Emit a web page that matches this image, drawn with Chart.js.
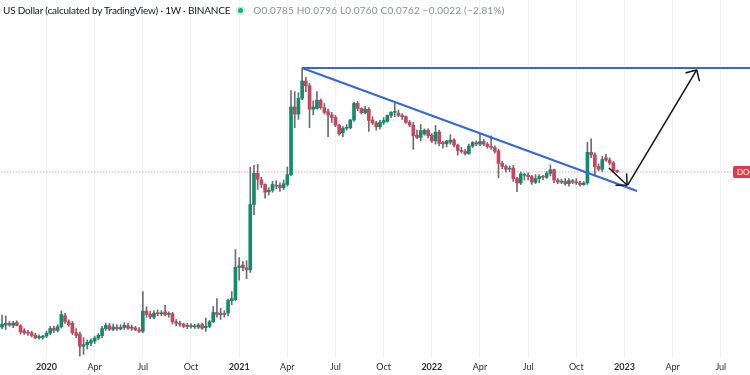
<!DOCTYPE html>
<html>
<head>
<meta charset="utf-8">
<script src="https://cdn.jsdelivr.net/npm/chart.js@4.4.1/dist/chart.umd.min.js"></script>
<style>
  html, body { margin: 0; padding: 0; background: #fff; }
  #wrap { position: relative; width: 750px; height: 375px; overflow: hidden; font-family: Lato, 'Open Sans', sans-serif; }
  #legend { position: absolute; left: 3px; top: 4px; font-size: 10px; color: #131722; white-space: nowrap; }
  #legend .name { letter-spacing: -0.2px; }
  #legend .dot { display: inline-block; width: 5px; height: 5px; border-radius: 50%; background: #22ab7a; box-shadow: 0 0 0 2px #c9eedd; margin: 0 10px 1px 8px; }
  #legend .ohlc { color: #8c8f99; letter-spacing: 0.2px; }
  #tag { position: absolute; left: 733px; top: 166px; height: 12px; padding: 0 4px; background: #e2374e; color: #fff; font-size: 8px; line-height: 12px; border-radius: 2px; }
</style>
</head>
<body>
<div id="wrap">
  <canvas id="chart"></canvas>
  <div id="legend"><span class="name">US Dollar (calculated by TradingView) · 1W · BINANCE</span><span class="dot"></span><span class="ohlc">O0.0785 H0.0796 L0.0760 C0.0762 −0.0022 (−2.81%)</span></div>
  <div id="tag">DOGEUSDT</div>
</div>
<script>
// weekly candles, week index counted from Mon 30 Dec 2019
const firstWeek = -12;
const open = [
  0.00268, 0.00258, 0.00270, 0.00280, 0.00268, 0.00285, 0.00266, 0.00238, 0.00230, 0.00228, 0.00216, 0.00204,
  0.00206, 0.00212, 0.00226, 0.00252, 0.00240, 0.00260, 0.00330, 0.00290, 0.00280, 0.00228, 0.00222, 0.00170,
  0.00176, 0.00182, 0.00190, 0.00203, 0.00214, 0.00250, 0.00266, 0.00246, 0.00258, 0.00248, 0.00256, 0.00266,
  0.00252, 0.00254, 0.00243, 0.00236, 0.00366, 0.00342, 0.00320, 0.00350, 0.00345, 0.00360, 0.00340, 0.00346,
  0.00290, 0.00280, 0.00275, 0.00262, 0.00267, 0.00260, 0.00258, 0.00272, 0.00255, 0.00262, 0.00290, 0.00355,
  0.00340, 0.00348, 0.00350, 0.00460, 0.00470, 0.0095, 0.0100, 0.0094, 0.0090, 0.0375, 0.074, 0.064,
  0.058, 0.0495, 0.051, 0.057, 0.057, 0.054, 0.058, 0.072, 0.315, 0.270, 0.380, 0.555,
  0.500, 0.300, 0.305, 0.365, 0.310, 0.285, 0.265, 0.250, 0.212, 0.180, 0.198, 0.200,
  0.237, 0.340, 0.305, 0.278, 0.300, 0.237, 0.222, 0.205, 0.225, 0.230, 0.262, 0.280,
  0.275, 0.262, 0.255, 0.225, 0.212, 0.170, 0.162, 0.175, 0.190, 0.170, 0.150, 0.182,
  0.145, 0.141, 0.146, 0.153, 0.137, 0.122, 0.119, 0.114, 0.134, 0.145, 0.140, 0.148,
  0.140, 0.133, 0.130, 0.121, 0.092, 0.086, 0.081, 0.083, 0.066, 0.060, 0.071, 0.071,
  0.069, 0.061, 0.066, 0.069, 0.068, 0.074, 0.080, 0.064, 0.061, 0.062, 0.059, 0.063,
  0.061, 0.060, 0.058, 0.060, 0.117, 0.111, 0.086, 0.081, 0.104, 0.099, 0.093, 0.0785
];
const high = [
  0.00280, 0.00335, 0.00330, 0.00292, 0.00292, 0.00296, 0.00272, 0.00250, 0.00240, 0.00236, 0.00226, 0.00218,
  0.00216, 0.00236, 0.00262, 0.00264, 0.00272, 0.00367, 0.00348, 0.00302, 0.00292, 0.00250, 0.00232, 0.00205,
  0.00195, 0.00200, 0.00212, 0.00224, 0.00262, 0.00282, 0.00280, 0.00276, 0.00272, 0.00272, 0.00284, 0.00280,
  0.00270, 0.00262, 0.00255, 0.00560, 0.00402, 0.00365, 0.00370, 0.00376, 0.00370, 0.00415, 0.00360, 0.00356,
  0.00305, 0.00295, 0.00282, 0.00280, 0.00278, 0.00275, 0.00280, 0.00282, 0.00315, 0.00300, 0.00405, 0.00480,
  0.00390, 0.00370, 0.00475, 0.00560, 0.0140, 0.0118, 0.0108, 0.0110, 0.085, 0.088, 0.090, 0.068,
  0.059, 0.054, 0.062, 0.063, 0.060, 0.064, 0.085, 0.450, 0.440, 0.430, 0.7376, 0.600,
  0.530, 0.360, 0.440, 0.375, 0.340, 0.300, 0.280, 0.262, 0.215, 0.205, 0.215, 0.240,
  0.350, 0.355, 0.310, 0.320, 0.310, 0.255, 0.230, 0.235, 0.250, 0.265, 0.285, 0.340,
  0.295, 0.272, 0.260, 0.235, 0.225, 0.190, 0.215, 0.195, 0.195, 0.176, 0.210, 0.190,
  0.150, 0.152, 0.172, 0.158, 0.140, 0.130, 0.124, 0.140, 0.148, 0.150, 0.172, 0.155,
  0.145, 0.168, 0.135, 0.125, 0.096, 0.089, 0.087, 0.088, 0.068, 0.076, 0.074, 0.075,
  0.071, 0.072, 0.072, 0.071, 0.077, 0.089, 0.081, 0.066, 0.065, 0.066, 0.066, 0.065,
  0.066, 0.062, 0.062, 0.146, 0.157, 0.116, 0.091, 0.107, 0.112, 0.104, 0.096, 0.0796
];
const low = [
  0.00258, 0.00248, 0.00245, 0.00262, 0.00255, 0.00265, 0.00222, 0.00220, 0.00215, 0.00208, 0.00200, 0.00198,
  0.00198, 0.00205, 0.00218, 0.00230, 0.00232, 0.00252, 0.00280, 0.00262, 0.00220, 0.00205, 0.00137, 0.00142,
  0.00160, 0.00172, 0.00180, 0.00195, 0.00205, 0.00240, 0.00238, 0.00238, 0.00240, 0.00242, 0.00245, 0.00245,
  0.00240, 0.00238, 0.00230, 0.00228, 0.00320, 0.00310, 0.00310, 0.00330, 0.00330, 0.00330, 0.00320, 0.00275,
  0.00265, 0.00262, 0.00255, 0.00250, 0.00252, 0.00250, 0.00250, 0.00245, 0.00235, 0.00255, 0.00285, 0.00320,
  0.00305, 0.00320, 0.00330, 0.00420, 0.00460, 0.0072, 0.0088, 0.0074, 0.0085, 0.030, 0.052, 0.054,
  0.043, 0.046, 0.049, 0.053, 0.050, 0.052, 0.056, 0.070, 0.200, 0.240, 0.370, 0.440,
  0.200, 0.265, 0.300, 0.300, 0.270, 0.165, 0.225, 0.205, 0.170, 0.165, 0.190, 0.195,
  0.230, 0.290, 0.270, 0.270, 0.185, 0.215, 0.190, 0.195, 0.215, 0.225, 0.250, 0.255,
  0.255, 0.240, 0.220, 0.205, 0.125, 0.158, 0.150, 0.170, 0.160, 0.145, 0.140, 0.135,
  0.128, 0.132, 0.140, 0.132, 0.110, 0.115, 0.110, 0.112, 0.130, 0.135, 0.135, 0.135,
  0.128, 0.125, 0.115, 0.067, 0.082, 0.076, 0.077, 0.062, 0.0495, 0.058, 0.064, 0.064,
  0.058, 0.059, 0.060, 0.064, 0.066, 0.070, 0.060, 0.059, 0.059, 0.057, 0.056, 0.059,
  0.058, 0.056, 0.057, 0.058, 0.104, 0.070, 0.078, 0.077, 0.096, 0.089, 0.076, 0.0760
];
const close = [
  0.00270, 0.00275, 0.00280, 0.00270, 0.00282, 0.00268, 0.00232, 0.00228, 0.00226, 0.00215, 0.00205, 0.00210,
  0.00212, 0.00226, 0.00250, 0.00240, 0.00260, 0.00340, 0.00290, 0.00272, 0.00228, 0.00215, 0.00170, 0.00176,
  0.00185, 0.00192, 0.00203, 0.00216, 0.00250, 0.00268, 0.00246, 0.00258, 0.00248, 0.00256, 0.00268, 0.00252,
  0.00254, 0.00243, 0.00236, 0.00366, 0.00340, 0.00322, 0.00350, 0.00345, 0.00352, 0.00340, 0.00346, 0.00290,
  0.00280, 0.00275, 0.00262, 0.00267, 0.00260, 0.00264, 0.00270, 0.00252, 0.00262, 0.00290, 0.00355, 0.00340,
  0.00345, 0.00338, 0.00460, 0.00480, 0.0095, 0.0098, 0.0094, 0.0090, 0.0375, 0.074, 0.065, 0.058,
  0.049, 0.051, 0.058, 0.056, 0.054, 0.059, 0.072, 0.315, 0.270, 0.380, 0.555, 0.500,
  0.300, 0.315, 0.365, 0.310, 0.280, 0.265, 0.250, 0.212, 0.175, 0.198, 0.200, 0.237,
  0.340, 0.305, 0.278, 0.300, 0.235, 0.222, 0.205, 0.225, 0.235, 0.262, 0.280, 0.285,
  0.262, 0.255, 0.225, 0.212, 0.168, 0.162, 0.188, 0.190, 0.168, 0.150, 0.182, 0.142,
  0.141, 0.150, 0.153, 0.137, 0.122, 0.119, 0.114, 0.134, 0.145, 0.140, 0.148, 0.140,
  0.133, 0.130, 0.120, 0.092, 0.086, 0.081, 0.083, 0.066, 0.060, 0.073, 0.072, 0.069,
  0.061, 0.066, 0.069, 0.068, 0.074, 0.080, 0.064, 0.061, 0.062, 0.059, 0.063, 0.061,
  0.060, 0.058, 0.060, 0.117, 0.111, 0.086, 0.081, 0.100, 0.099, 0.093, 0.0785, 0.0762
];

// x axis labels (first weekly bar of each quarter)
const tickWeeks = [1, 14, 27, 40, 53, 66, 79, 92, 105, 118, 131, 144, 157, 170, 183];
const tickLabels = ['2020', 'Apr', 'Jul', 'Oct', '2021', 'Apr', 'Jul', 'Oct', '2022', 'Apr', 'Jul', 'Oct', '2023', 'Apr', 'Jul'];

const lastPrice = 0.0762;
// drawings: [week, price]
const resistance = [[70, 0.7376], [191, 0.7376]];
const trendLine = [[70, 0.7376], [160.4, 0.0503]];
const arrowDown = [[152.8, 0.0832], [157.7, 0.0574]];
const arrowUp = [[157.9, 0.0574], [176.5, 0.706]];

const upColor = '#138a6c';
const downColor = '#c8455b';
const weeks = open.map((_, i) => firstWeek + i);
const candleColors = weeks.map((_, i) => close[i] >= open[i] ? upColor : downColor);
const toPts = arr => arr.map(p => ({ x: p[0], y: p[1] }));

const lineSet = (data, color, width) => ({
  type: 'line', data: toPts(data), borderColor: color, borderWidth: width,
  pointRadius: 0, fill: false, tension: 0, order: 0
});

// arrow heads at the last point of the arrow datasets
const arrowHeads = {
  id: 'arrowHeads',
  afterDatasetsDraw(chart) {
    const ctx = chart.ctx;
    chart.data.datasets.forEach((ds, i) => {
      if (!ds.arrow) return;
      const pts = chart.getDatasetMeta(i).data;
      const a = pts[pts.length - 2], b = pts[pts.length - 1];
      const ang = Math.atan2(b.y - a.y, b.x - a.x);
      const len = 11;
      ctx.save();
      ctx.strokeStyle = ds.borderColor;
      ctx.lineWidth = ds.borderWidth;
      ctx.lineCap = 'round';
      ctx.beginPath();
      [Math.PI - 0.78, Math.PI + 0.78].forEach(d => {
        ctx.moveTo(b.x, b.y);
        ctx.lineTo(b.x + len * Math.cos(ang + d), b.y + len * Math.sin(ang + d));
      });
      ctx.stroke();
      ctx.restore();
    });
  }
};

new Chart(document.getElementById('chart'), {
  type: 'bar',
  data: {
    datasets: [
      lineSet(resistance, '#3565e0', 2),
      lineSet(trendLine, '#3565e0', 2),
      Object.assign(lineSet(arrowDown, '#111111', 1.5), { arrow: true }),
      Object.assign(lineSet(arrowUp, '#111111', 1.5), { arrow: true }),
      {
        type: 'line', data: [{ x: -12, y: lastPrice }, { x: 191, y: lastPrice }],
        borderColor: 'rgba(226,55,78,0.7)', borderWidth: 1, borderDash: [1, 2],
        pointRadius: 0, order: 3
      },
      {
        data: weeks.map((w, i) => ({ x: w, y: [open[i], close[i]] })),
        backgroundColor: candleColors, barThickness: 3, minBarLength: 1,
        grouped: false, order: 1
      },
      {
        data: weeks.map((w, i) => ({ x: w, y: [low[i], high[i]] })),
        backgroundColor: '#6a6d73', barThickness: 1,
        grouped: false, order: 2
      }
    ]
  },
  options: {
    responsive: true,
    maintainAspectRatio: false,
    animation: false,
    layout: { padding: 0 },
    plugins: { legend: { display: false }, tooltip: { enabled: false } },
    scales: {
      x: {
        type: 'linear', min: -11.55, max: 190.88, offset: false,
        afterBuildTicks: s => { s.ticks = tickWeeks.map(v => ({ value: v })); },
        afterFit: s => { s.height = 18; },
        grid: { color: '#f0f2f6', drawTicks: false, offset: false },
        border: { display: false },
        ticks: {
          padding: 5, maxRotation: 0, autoSkip: false, color: '#2a2e39',
          font: c => ({ family: 'Lato', size: 9, weight: /^\d/.test(tickLabels[c.index] || '') ? 'bold' : 'normal' }),
          callback: (v, i) => tickLabels[i]
        }
      },
      y: {
        type: 'logarithmic', position: 'right', min: 0.001344, max: 3.252,
        afterFit: s => { s.width = 0; },
        grid: { display: false },
        border: { display: false },
        ticks: { display: false }
      }
    }
  },
  plugins: [arrowHeads]
});
</script>
</body>
</html>
